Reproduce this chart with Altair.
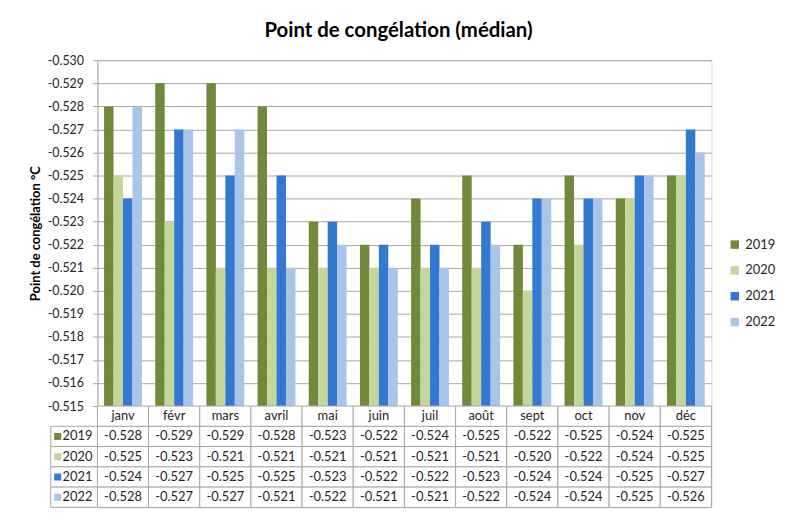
import altair as alt
import pandas as pd

months = ["janv", "févr", "mars", "avril", "mai", "juin", "juil", "août", "sept", "oct", "nov", "déc"]
years = ["2019", "2020", "2021", "2022"]
v2019 = [-0.528, -0.529, -0.529, -0.528, -0.523, -0.522, -0.524, -0.525, -0.522, -0.525, -0.524, -0.525]
v2020 = [-0.525, -0.523, -0.521, -0.521, -0.521, -0.521, -0.521, -0.521, -0.520, -0.522, -0.524, -0.525]
v2021 = [-0.524, -0.527, -0.525, -0.525, -0.523, -0.522, -0.522, -0.523, -0.524, -0.524, -0.525, -0.527]
v2022 = [-0.528, -0.527, -0.527, -0.521, -0.522, -0.521, -0.521, -0.522, -0.524, -0.524, -0.525, -0.526]
colors = ["#71893A", "#C4D79B", "#3478CF", "#A9C6EA"]
y_ticks = [-0.530, -0.529, -0.528, -0.527, -0.526, -0.525, -0.524, -0.523,
           -0.522, -0.521, -0.520, -0.519, -0.518, -0.517, -0.516, -0.515]

FONT = "Lato"
TXT = "#262626"
LINE = "#A6A6A6"

rows = []
for yr, vals in zip(years, [v2019, v2020, v2021, v2022]):
    for m, v in zip(months, vals):
        rows.append({"month": m, "year": yr, "row": yr, "value": v, "label": f"{v:.3f}"})
df = pd.DataFrame(rows)
hdr = pd.DataFrame({"month": months, "row": ["hdr"] * 12, "label": months})
cells_df = pd.concat([df[["month", "row", "label"]], hdr], ignore_index=True)
left_df = pd.DataFrame({"row": years, "year": years})

color_scale = alt.Scale(domain=years, range=colors)
row_domain = ["hdr"] + years

bars = alt.Chart(df).mark_bar().encode(
    x=alt.X("month:N", sort=months,
            scale=alt.Scale(domain=months, paddingInner=0.26, paddingOuter=0.13), axis=None),
    xOffset=alt.XOffset("year:N", sort=years, scale=alt.Scale(domain=years)),
    y=alt.Y("value:Q",
            scale=alt.Scale(domain=[-0.530, -0.515], reverse=True, zero=False, nice=False),
            axis=alt.Axis(values=y_ticks,
                          labelExpr="replace(format(datum.value, '.3f'), '\u2212', '-')",
                          title="Point de congélation °C", titleFont=FONT, titleFontSize=13,
                          titleFontWeight="bold", titleColor="#000000", titlePadding=5,
                          labelFont=FONT, labelFontSize=12.5, labelColor=TXT, labelPadding=9,
                          tickSize=5, tickColor=LINE, domainColor=LINE, gridColor=LINE)),
    y2=alt.datum(-0.515),
    color=alt.Color("year:N", scale=color_scale,
                    legend=alt.Legend(title=None, orient="none", legendX=635, legendY=179,
                                      symbolType="square", symbolSize=72, symbolStrokeWidth=0,
                                      labelFont=FONT, labelFontSize=13, labelColor=TXT,
                                      rowPadding=12, labelOffset=4)),
).properties(
    width=618, height=348,
    title=alt.TitleParams("Point de congélation (médian)", font=FONT, fontSize=20.5,
                          fontWeight="bold", color="#000000", anchor="middle", offset=13, dx=-6),
)

ysc = alt.Y("row:N", scale=alt.Scale(domain=row_domain, paddingInner=0, paddingOuter=0), axis=None)
xsc = alt.X("month:N", scale=alt.Scale(domain=months, paddingInner=0, paddingOuter=0), axis=None)

cells = alt.Chart(cells_df).mark_rect(fill="white", stroke=LINE, strokeWidth=1).encode(x=xsc, y=ysc)
cell_txt = alt.Chart(cells_df).mark_text(font=FONT, fontSize=13, color=TXT).encode(
    x=xsc, y=ysc, text="label:N")
left_box = alt.Chart(left_df).mark_rect(fill="white", stroke=LINE, strokeWidth=1).encode(
    x=alt.value(-47), x2=alt.value(0), y=ysc)
left_sq = alt.Chart(left_df).mark_square(size=50, opacity=1).encode(
    x=alt.value(-40), y=ysc,
    color=alt.Color("year:N", scale=color_scale, legend=None))
left_txt = alt.Chart(left_df).mark_text(font=FONT, fontSize=13, color=TXT, align="right").encode(
    x=alt.value(-5), y=ysc, text="year:N")

table = alt.layer(cells, cell_txt, left_box, left_sq, left_txt).properties(width=618, height=102)

chart = alt.vconcat(bars, table, spacing=0, bounds="flush").resolve_scale(
    x="independent", y="independent", color="shared"
).resolve_legend(color="independent").properties(
    padding={"left": 20, "top": 11, "right": 0, "bottom": 0}
).configure_view(strokeWidth=0).configure(background="white")

chart.save("out.html", embed_options={"renderer": "svg", "actions": False})
